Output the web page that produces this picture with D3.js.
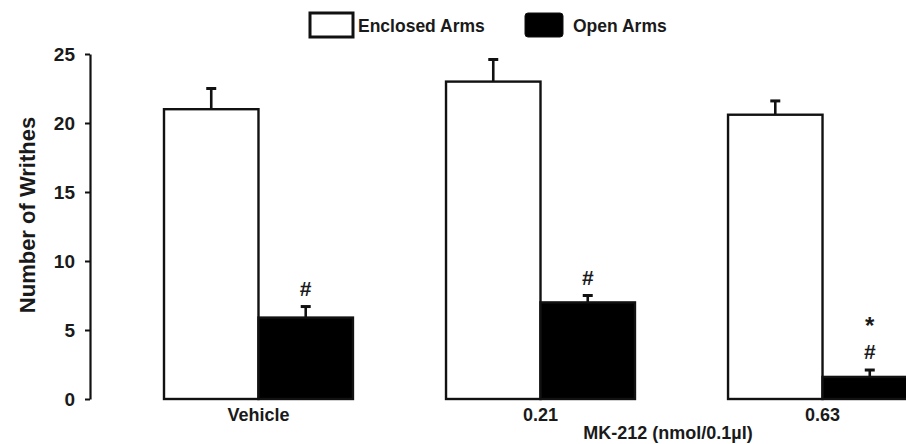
<!DOCTYPE html>
<html>
<head>
<meta charset="utf-8">
<script src="https://cdn.jsdelivr.net/npm/d3@7"></script>
<style>
  html, body { margin: 0; padding: 0; background: #fff; }
  svg { display: block; }
  text { font-family: "Liberation Sans", Arial, sans-serif; font-weight: bold; fill: #1a1a1a; }
</style>
</head>
<body>
<svg id="chart" width="906" height="444"></svg>
<script>
// ---- data ----
const categories = ["Vehicle", "0.21", "0.63"];
const seriesNames = ["Enclosed Arms", "Open Arms"];
const enclosedValues = [21.0, 23.0, 20.6];
const enclosedErrors = [1.5, 1.6, 1.0];
const openValues = [5.9, 7.0, 1.6];
const openErrors = [0.8, 0.5, 0.5];
const openMarks = [["#"], ["#"], ["*", "#"]];
const yTicks = [0, 5, 10, 15, 20, 25];
const yTitle = "Number of Writhes";
const xTitle = "MK-212 (nmol/0.1\u00b5l)";

const svg = d3.select("#chart");

const y = d3.scaleLinear().domain([0, 25]).range([399, 54]);
const x0 = d3.scaleBand().domain(categories).range([164, 917]).paddingInner(0.33).paddingOuter(0);
const x1 = d3.scaleBand().domain(seriesNames).range([0, x0.bandwidth()]).padding(0);

const fills = {"Enclosed Arms": "#ffffff", "Open Arms": "#000000"};

const rows = categories.map((c, i) => ({
  cat: c,
  bars: [
    {series: "Enclosed Arms", v: enclosedValues[i], e: enclosedErrors[i], mark: []},
    {series: "Open Arms", v: openValues[i], e: openErrors[i], mark: openMarks[i]}
  ]
}));

// y axis
const yAxis = d3.axisLeft(y).tickValues(yTicks).tickSize(5).tickSizeOuter(0).tickPadding(10);
const gy = svg.append("g").attr("transform", "translate(90,0)").call(yAxis);
gy.select(".domain").attr("stroke", "#111").attr("stroke-width", 2.2);
gy.selectAll(".tick line").attr("stroke", "#111").attr("stroke-width", 2);
gy.selectAll(".tick text").style("font-size", "19px").style("font-family", "Liberation Sans, Arial, sans-serif").style("font-weight", "bold").attr("fill", "#1a1a1a");

// y title
svg.append("text")
  .attr("transform", "translate(35,215) rotate(-90)")
  .attr("text-anchor", "middle")
  .style("font-size", "22px")
  .text(yTitle);

// bars
const groups = svg.selectAll("g.grp").data(rows).enter().append("g")
  .attr("class", "grp")
  .attr("transform", d => `translate(${x0(d.cat)},0)`);

const bar = groups.selectAll("g.bar").data(d => d.bars).enter().append("g").attr("class", "bar");

// error bars (upward only)
bar.append("line")
  .attr("x1", d => x1(d.series) + x1.bandwidth() / 2)
  .attr("x2", d => x1(d.series) + x1.bandwidth() / 2)
  .attr("y1", d => y(d.v))
  .attr("y2", d => y(d.v + d.e))
  .attr("stroke", "#111").attr("stroke-width", 2.6);
bar.append("line")
  .attr("x1", d => x1(d.series) + x1.bandwidth() / 2 - 5)
  .attr("x2", d => x1(d.series) + x1.bandwidth() / 2 + 5)
  .attr("y1", d => y(d.v + d.e))
  .attr("y2", d => y(d.v + d.e))
  .attr("stroke", "#111").attr("stroke-width", 3);

bar.append("rect")
  .attr("x", d => x1(d.series))
  .attr("y", d => y(d.v))
  .attr("width", x1.bandwidth())
  .attr("height", d => y(0) - y(d.v))
  .attr("fill", d => fills[d.series])
  .attr("stroke", "#111")
  .attr("stroke-width", 2.4);

// significance marks (stacked)
bar.filter(d => d.mark.length > 0).each(function(d) {
  const cx = x1(d.series) + x1.bandwidth() / 2;
  const base = y(d.v + d.e) - 11;
  const n = d.mark.length;
  const t = d3.select(this).append("text")
    .attr("text-anchor", "middle");
  d.mark.forEach((m, k) => {
    const lineBase = base - (n - 1 - k) * 25;
    t.append("tspan")
      .attr("x", cx)
      .attr("y", lineBase)
      .style("font-size", m === "*" ? "24px" : "21px")
      .text(m);
  });
});

// category labels
svg.selectAll("text.cat").data(categories).enter().append("text")
  .attr("class", "cat")
  .attr("x", d => x0(d) + x0.bandwidth() / 2)
  .attr("y", 421)
  .attr("text-anchor", "middle")
  .style("font-size", "18px")
  .text(d => d);

// x title
svg.append("text")
  .attr("x", 668).attr("y", 439)
  .attr("text-anchor", "middle")
  .style("font-size", "18px")
  .text(xTitle);

// legend
const legend = [
  {name: seriesNames[0], bx: 310, bw: 43, tx: 358},
  {name: seriesNames[1], bx: 525, bw: 38, tx: 573}
];
const lg = svg.selectAll("g.leg").data(legend).enter().append("g").attr("class", "leg");
lg.append("rect")
  .attr("x", d => d.bx).attr("y", 13)
  .attr("width", d => d.bw).attr("height", 24)
  .attr("rx", d => d.name === "Open Arms" ? 3 : 0)
  .attr("fill", d => fills[d.name])
  .attr("stroke", "#111").attr("stroke-width", d => d.name === "Open Arms" ? 1 : 3);
lg.append("text")
  .attr("x", d => d.tx).attr("y", 32)
  .style("font-size", "17.5px")
  .text(d => d.name);
</script>
</body>
</html>
